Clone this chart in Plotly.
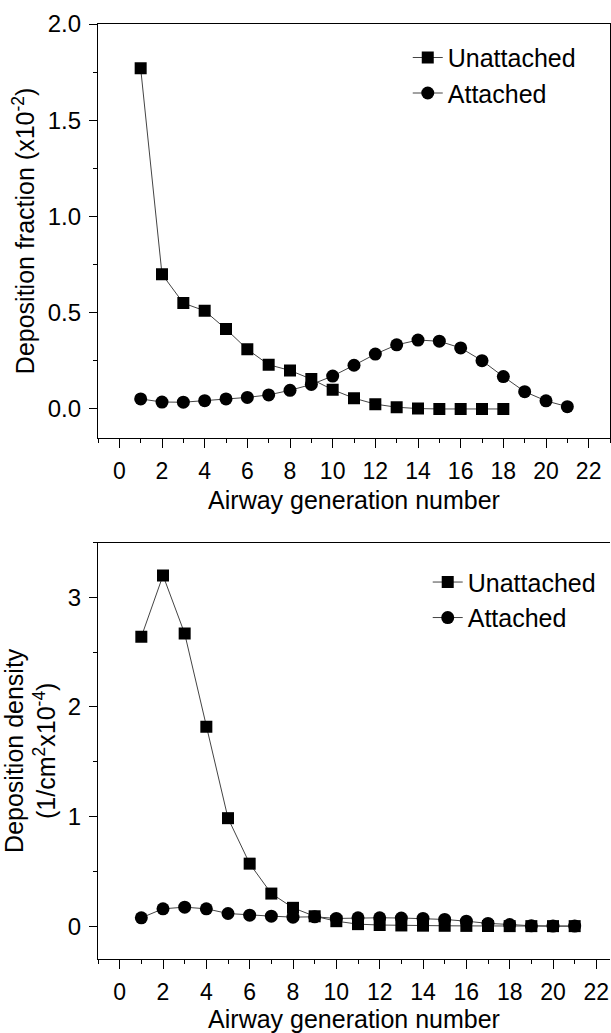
import plotly.graph_objects as go

# Top panel: deposition fraction (x10^-2)
frac_x_un = list(range(1, 19))
frac_unattached = [1.77, 0.70, 0.55, 0.51, 0.415, 0.31, 0.23, 0.20, 0.155, 0.10,
                   0.056, 0.025, 0.009, 0.002, 0.0, 0.0, 0.0, 0.0]
frac_x_at = list(range(1, 22))
frac_attached = [0.052, 0.036, 0.035, 0.043, 0.052, 0.06, 0.073, 0.097, 0.127, 0.171,
                 0.227, 0.285, 0.333, 0.358, 0.352, 0.317, 0.251, 0.168, 0.09, 0.042, 0.012]

# Bottom panel: deposition density (1/cm^2 x10^-4)
dens_x = list(range(1, 22))
dens_unattached = [2.64, 3.20, 2.67, 1.82, 0.985, 0.57, 0.297, 0.167, 0.09, 0.045,
                   0.018, 0.01, 0.006, 0.004, 0.003, 0.002, 0.001, 0.0, 0.0, 0.0, 0.0]
dens_attached = [0.076, 0.158, 0.173, 0.158, 0.115, 0.10, 0.091, 0.082, 0.085, 0.07,
                 0.076, 0.076, 0.074, 0.07, 0.061, 0.045, 0.025, 0.015, 0.003, 0.0, 0.0]

FONT = "Arial, Liberation Sans, sans-serif"
LINE = "#444444"

fig = go.Figure()

def add(x, y, sym, size, name, xa, ya, legend):
    fig.add_trace(go.Scatter(
        x=x, y=y, mode="lines+markers", name=name,
        line=dict(color=LINE, width=1),
        marker=dict(symbol=sym, size=size, color="black", line=dict(width=0)),
        xaxis=xa, yaxis=ya, legend=legend))

add(frac_x_un, frac_unattached, "square", 12, "Unattached", "x", "y", "legend")
add(frac_x_at, frac_attached, "circle", 13, "Attached", "x", "y", "legend")
add(dens_x, dens_unattached, "square", 12, "Unattached", "x2", "y2", "legend2")
add(dens_x, dens_attached, "circle", 13, "Attached", "x2", "y2", "legend2")

MINOR = dict(ticks="outside", ticklen=4, tickwidth=1.3, tickcolor="black")
base = dict(showline=True, linecolor="black", linewidth=1.3,
            ticks="outside", tickwidth=1.3, tickcolor="black",
            showgrid=False, zeroline=False)
xcommon = dict(base, ticklen=9, ticklabelstandoff=3,
               tickfont=dict(family=FONT, size=23, color="black"))
ycommon = dict(base, ticklen=8, ticklabelstandoff=3,
               tickfont=dict(family=FONT, size=24, color="black"))
TFONT = dict(family=FONT, size=25, color="black")

fig.update_layout(
    width=611, height=1033,
    margin=dict(l=98, r=1, t=24, b=74),
    paper_bgcolor="white", plot_bgcolor="white",
    font=dict(family=FONT, color="black"),
    xaxis=dict(xcommon, domain=[0, 1], range=[-1, 23], anchor="y",
               dtick=2, tick0=0, mirror=True,
               minor=dict(MINOR, dtick=1, tick0=0),
               title=dict(text="Airway generation number", font=TFONT, standoff=8)),
    yaxis=dict(ycommon, domain=[0.5574, 1], range=[-0.15, 2.0], anchor="x",
               dtick=0.5, tick0=0, tickformat=".1f", mirror=True,
               minor=dict(MINOR, dtick=0.25, tick0=0),
               title=dict(text="Deposition fraction (x10<sup>-2</sup>)", font=TFONT, standoff=5)),
    xaxis2=dict(xcommon, domain=[0, 1], range=[-1, 22.63], anchor="y2",
                dtick=2, tick0=0, mirror=True,
                minor=dict(MINOR, dtick=1, tick0=0),
                title=dict(text="Airway generation number", font=TFONT, standoff=8)),
    yaxis2=dict(ycommon, domain=[0, 0.4454], range=[-0.3, 3.5], anchor="x2",
                dtick=1, tick0=0,
                minor=dict(MINOR, dtick=0.5, tick0=0),
                title=dict(text="Deposition density<br>(1/cm<sup>2</sup>x10<sup>-4</sup>)", font=TFONT, standoff=5)),
    legend=dict(x=0.605, y=0.9885, xanchor="left", yanchor="top", bgcolor="rgba(0,0,0,0)",
                font=dict(family=FONT, size=25), tracegroupgap=0),
    legend2=dict(x=0.644, y=0.4275, xanchor="left", yanchor="top", bgcolor="rgba(0,0,0,0)",
                 font=dict(family=FONT, size=25), tracegroupgap=0),
)

fig.write_html("out.html", config={"displayModeBar": False},
               post_script="document.body.style.margin='0';document.body.style.overflow='hidden';")
